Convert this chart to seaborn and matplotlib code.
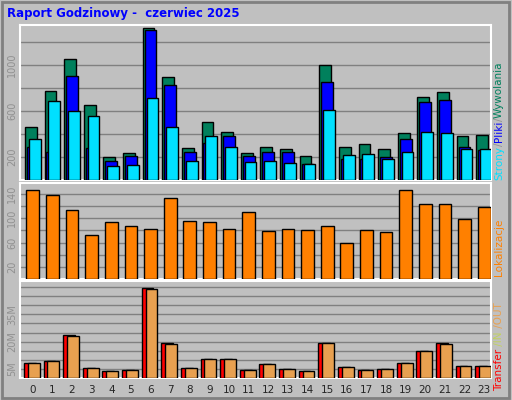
import matplotlib
matplotlib.use("Agg")
import matplotlib.pyplot as plt
import seaborn as sns
import pandas as pd
import numpy as np

# hourly stats
hours = list(range(24))
hits = [458, 774, 1050, 650, 197, 232, 1322, 893, 275, 502, 415, 232,
        284, 267, 206, 998, 284, 310, 267, 406, 719, 763, 380, 389]
files = [290, 241, 902, 278, 165, 206, 1302, 824, 241, 319, 380, 206,
         241, 241, 136, 850, 183, 183, 197, 354, 676, 693, 284, 258]
pages = [354, 687, 597, 554, 122, 128, 710, 458, 162, 380, 284, 154,
         162, 145, 136, 606, 215, 223, 180, 241, 415, 406, 267, 267]
sites = [146, 139, 113, 72, 93, 88, 82, 133, 96, 93, 83, 111,
         79, 83, 80, 88, 60, 80, 78, 146, 124, 124, 98, 119]
kbytes = [8.4, 9.5, 23.5, 5.7, 4.0, 4.5, 49.4, 19.0, 5.7, 10.6, 10.5, 4.6,
          7.9, 5.1, 4.0, 19.5, 6.2, 4.6, 5.0, 8.4, 15.0, 19.0, 6.7, 6.7]
inout = [8.2, 9.3, 23.0, 5.5, 3.8, 4.4, 48.8, 18.7, 5.5, 10.4, 10.4, 4.4,
         7.7, 4.9, 3.8, 19.2, 6.0, 4.4, 4.9, 8.2, 14.8, 18.7, 6.6, 6.6]

BG = "#c0c0c0"
sns.set_style("white")
plt.rcParams["font.family"] = ["DejaVu Sans"]

fig = plt.figure(figsize=(5.12, 4.0), dpi=100, facecolor=BG)
x = np.array(hours)

def frame(ax, ymax, step, ticks, labels):
    ax.set_facecolor(BG)
    ax.set_xlim(-0.65, 23.35)
    ax.set_ylim(0, ymax)
    for g in np.arange(step, ymax, step):
        ax.axhline(g, color="#808080", lw=1, zorder=0)
    ax.set_yticks(ticks)
    ax.set_yticklabels(labels, rotation=90, va="center", color="#909090", fontsize=7)
    ax.tick_params(axis="y", length=0, pad=2)
    ax.set_xticks([])
    for s in ax.spines.values():
        s.set_color("white")
        s.set_linewidth(1.5)
    ax.set_xlabel("")
    ax.set_ylabel("")

ax1 = fig.add_axes([20 / 512, 0.55, 471 / 512, 155 / 400])
frame(ax1, 1348, 200, [200, 600, 1000], ["200", "600", "1000"])
kw = dict(width=0.6, edgecolor="black", linewidth=1, zorder=3)
ax1.bar(x - 0.1, hits, color="#00805c", **kw)
ax1.bar(x, files, color="#0000ff", **kw)
ax1.bar(x + 0.1, pages, color="#00e0ff", **kw)

ax2 = fig.add_axes([20 / 512, 0.3025, 471 / 512, 96 / 400])
df = pd.DataFrame({"hour": hours, "sites": sites})
sns.barplot(data=df, x="hour", y="sites", ax=ax2, color="#ff8000",
            saturation=1, width=0.65, edgecolor="black", linewidth=1, zorder=3,
            native_scale=True)
frame(ax2, 158, 20, [20, 60, 100, 140], ["20", "60", "100", "140"])

ax3 = fig.add_axes([20 / 512, 0.055, 471 / 512, 97 / 400])
frame(ax3, 53.3, 5, [5, 20, 35], ["5M", "20M", "35M"])
ax3.bar(x - 0.15, kbytes, color="#ff0000", **kw)
ax3.bar(x + 0.05, inout, color="#e8a050", **kw)
ax3.set_xticks(hours)
ax3.set_xticklabels([str(h) for h in hours], fontsize=7.5)
ax3.tick_params(axis="x", length=0, pad=5)

fig.text(7 / 512, 1 - 14 / 400, "Raport Godzinowy -  czerwiec 2025",
         color="#0000ff", fontweight="bold", fontsize=8.5, va="center")

def chain(x0, y0, parts, size=7.5):
    # rotated labels built from coloured pieces, each placed above the previous
    prev = fig.text(x0, y0, parts[0][0], color=parts[0][1], rotation=90,
                    fontsize=size, ha="center", va="bottom")
    for s, c in parts[1:]:
        prev = ax1.annotate(s, xy=(0.5, 1), xycoords=prev, color=c, rotation=90,
                            fontsize=size, ha="center", va="bottom",
                            annotation_clip=False)

gx = 499 / 512
chain(gx, 1 - 180 / 400, [("Strony", "#00e0ff"), ("/", "#909090"),
                          ("Pliki", "#0000ff"), ("/", "#909090"),
                          ("Wywolania", "#00805c")])
chain(gx, 1 - 276 / 400, [("Lokalizacje", "#ff8000")])
chain(gx, 1 - 391 / 400, [("Transfer", "#ff0000"), (" /IN", "#c0d060"),
                          (" /OUT", "#e8a050")])

# outer border
fig.add_artist(plt.Rectangle((0.003, 0.004), 0.992, 0.992, transform=fig.transFigure,
                             fill=False, edgecolor="#808080", lw=2))

fig.savefig("out.png", dpi=100, facecolor=BG)
